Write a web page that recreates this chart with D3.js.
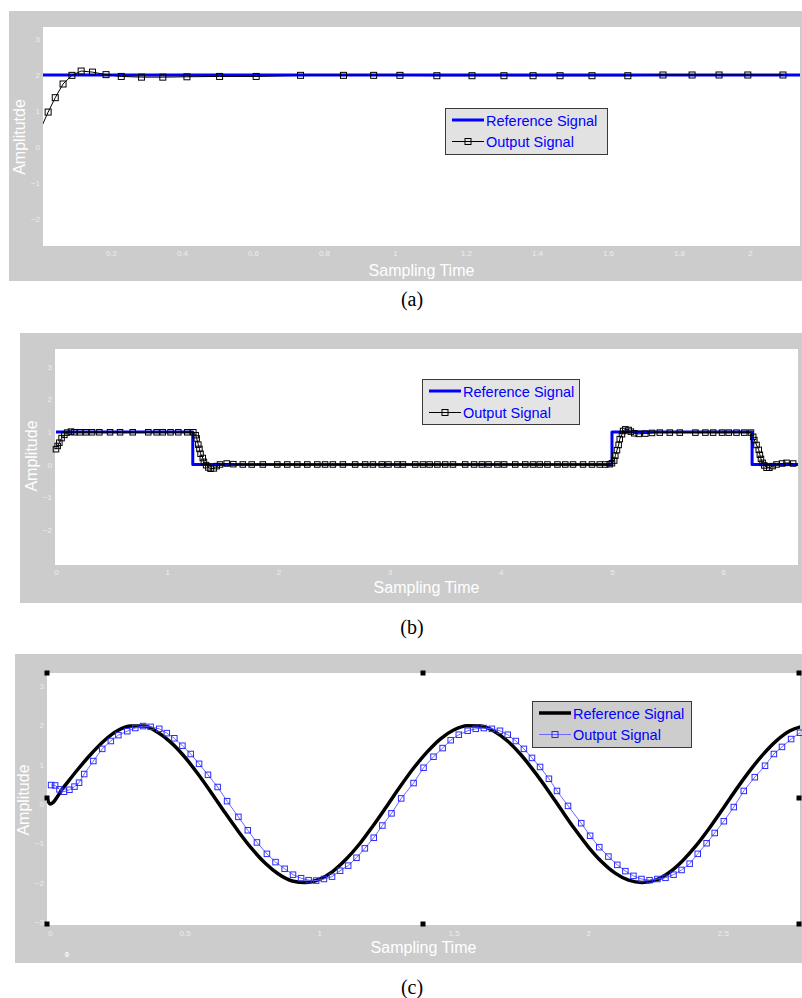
<!DOCTYPE html>
<html>
<head>
<meta charset="utf-8">
<script src="https://cdn.jsdelivr.net/npm/d3@7"></script>
<style>
  body { margin: 0; background: #fff; }
  svg { display: block; font-family: Arial, "Liberation Sans", sans-serif; }
</style>
</head>
<body>
<svg id="chart" width="802" height="998"></svg>
<script>
// ---- panel (a): step response ----
const aRefT = [0, 2.2];
const aRefV = [2, 2];
const aOutT = [-0.002, 0.023, 0.043, 0.065, 0.09, 0.116, 0.148, 0.186, 0.229, 0.286, 0.346, 0.414, 0.506, 0.609, 0.734,
  0.855, 0.94, 1.014, 1.118, 1.217, 1.307, 1.389, 1.465, 1.555, 1.656, 1.755, 1.837, 1.913, 1.994, 2.093];
const aOutV = [0.42, 0.97, 1.37, 1.75, 1.99, 2.11, 2.08, 2.01, 1.96, 1.94, 1.94, 1.95, 1.96, 1.96, 1.99,
  1.99, 1.99, 1.99, 1.98, 1.98, 1.98, 1.98, 1.98, 1.98, 1.98, 2.0, 2.0, 2.0, 2.0, 2.0];
const aXTicks = [0.2, 0.4, 0.6, 0.8, 1, 1.2, 1.4, 1.6, 1.8, 2];
const aXLabels = ['0.2', '0.4', '0.6', '0.8', '1', '1.2', '1.4', '1.6', '1.8', '2'];
const aYTicks = [-2, -1, 0, 1, 2, 3];

// ---- panel (b): square wave ----
const bRefT = [0, 1.23, 5.0, 6.26, 6.7];
const bRefV = [1, 0, 1, 0, 0];
const bOutT = [0, 0.015, 0.03, 0.05, 0.075, 0.1, 0.135, 0.165,
  0.216, 0.27, 0.324, 0.39, 0.486, 0.576, 0.69, 0.83, 0.905, 0.96, 1.03, 1.1, 1.18, 1.235,
  1.256, 1.265, 1.28, 1.29, 1.30, 1.32, 1.33, 1.35, 1.37, 1.39, 1.42, 1.445, 1.475, 1.535, 1.595,
  1.68, 1.76, 1.86, 1.99, 2.08, 2.17, 2.26, 2.35, 2.42, 2.49, 2.58, 2.69, 2.78, 2.85, 2.93, 2.99,
  3.07, 3.12, 3.23, 3.30, 3.36, 3.43, 3.50, 3.57, 3.68, 3.76, 3.83, 3.89, 3.97, 4.03, 4.13, 4.22,
  4.29, 4.35, 4.42, 4.51, 4.58, 4.65, 4.74, 4.82, 4.89, 4.94, 4.98,
  5.0, 5.02, 5.03, 5.045, 5.06, 5.07, 5.09, 5.10, 5.12, 5.15, 5.17, 5.2, 5.24, 5.30, 5.36, 5.43,
  5.52, 5.61, 5.75, 5.84, 5.91, 5.99, 6.05, 6.12, 6.19, 6.25,
  6.27, 6.28, 6.30, 6.32, 6.33, 6.34, 6.355, 6.37, 6.39, 6.415, 6.445, 6.48, 6.53, 6.57, 6.63];
const bOutV = [0.47, 0.57, 0.67, 0.81, 0.91, 0.98, 1.01, 0.99,
  0.99, 0.99, 0.99, 0.99, 0.99, 0.99, 0.99, 0.99, 0.99, 0.99, 0.99, 0.99, 0.99, 0.99,
  0.9, 0.8, 0.61, 0.48, 0.33, 0.2, 0.08, -0.02, -0.09, -0.13, -0.12, -0.05, 0.0, 0.03, 0.01,
  0, 0, 0, 0, 0, 0, 0, 0, 0, 0, 0, 0, 0, 0, 0, 0,
  0, 0, 0, 0, 0, 0, 0, 0, 0, 0, 0, 0, 0, 0, 0, 0,
  0, 0, 0, 0, 0, 0, 0, 0, 0, 0, 0.01,
  0.04, 0.12, 0.27, 0.44, 0.6, 0.78, 0.93, 1.03, 1.08, 1.06, 1.01, 0.96, 0.94, 0.95, 0.97, 0.98,
  0.98, 0.98, 0.98, 0.98, 0.98, 0.98, 0.98, 0.98, 0.98, 0.98,
  0.85, 0.75, 0.6, 0.45, 0.3, 0.17, 0.05, -0.03, -0.1, -0.1, -0.05, 0.0, 0.03, 0.05, 0.03];
const bXTicks = [0, 1, 2, 3, 4, 5, 6];
const bXLabels = ['0', '1', '2', '3', '4', '5', '6'];
const bYTicks = [-2, -1, 0, 1, 2, 3];

// ---- panel (c): sine tracking ----
const cRefT = [-0.011, 0, 0.05, 0.1, 0.15, 0.2, 0.25, 0.3, 0.35, 0.4, 0.45, 0.5, 0.55, 0.6, 0.65, 0.7, 0.75,
  0.8, 0.85, 0.9, 0.95, 1.0, 1.05, 1.1, 1.15, 1.2, 1.25, 1.3, 1.35, 1.4, 1.45, 1.5, 1.55, 1.6, 1.65,
  1.7, 1.75, 1.8, 1.85, 1.9, 1.95, 2.0, 2.05, 2.1, 2.15, 2.2, 2.25, 2.3, 2.35, 2.4, 2.45, 2.5, 2.55,
  2.6, 2.65, 2.7, 2.75, 2.8];
const cRefV = [0.14, 0, 0.42, 0.85, 1.25, 1.6, 1.86, 1.98, 1.98, 1.82, 1.56, 1.2, 0.76, 0.28, -0.22, -0.7, -1.14,
  -1.51, -1.79, -1.96, -2.0, -1.92, -1.72, -1.41, -1.02, -0.56, -0.07, 0.43, 0.9, 1.31, 1.65, 1.88, 1.99, 1.98, 1.85,
  1.6, 1.25, 0.82, 0.35, -0.15, -0.64, -1.09, -1.47, -1.76, -1.94, -2.0, -1.94, -1.75, -1.45, -1.07, -0.62, -0.13, 0.37,
  0.84, 1.26, 1.61, 1.86, 1.98];
const cOutT = [0.004, 0.019, 0.035, 0.052, 0.072, 0.091, 0.108, 0.127, 0.161, 0.194, 0.226, 0.254, 0.287, 0.317,
  0.346, 0.374, 0.406, 0.434, 0.462, 0.492, 0.523, 0.554, 0.587, 0.623, 0.658, 0.7, 0.735, 0.769, 0.806,
  0.838, 0.872, 0.903, 0.933, 0.961, 0.989, 1.018, 1.048, 1.078, 1.108, 1.139, 1.17, 1.203, 1.235, 1.269,
  1.305, 1.351, 1.388, 1.425, 1.459, 1.489, 1.519, 1.552, 1.582, 1.612, 1.642, 1.672, 1.701, 1.731, 1.761,
  1.791, 1.821, 1.854, 1.884, 1.925, 1.974, 2.007, 2.041, 2.075, 2.108, 2.138, 2.168, 2.198, 2.228, 2.257,
  2.287, 2.317, 2.347, 2.377, 2.407, 2.44, 2.47, 2.504, 2.541, 2.578, 2.619, 2.657, 2.69, 2.72, 2.754, 2.787];
const cOutV = [0.48, 0.47, 0.37, 0.31, 0.36, 0.44, 0.54, 0.76, 1.09, 1.4, 1.6, 1.75, 1.85, 1.93,
  1.98, 1.96, 1.91, 1.8, 1.67, 1.48, 1.27, 1.02, 0.74, 0.43, 0.07, -0.33, -0.67, -0.98, -1.27,
  -1.48, -1.65, -1.8, -1.89, -1.94, -1.95, -1.91, -1.85, -1.7, -1.57, -1.37, -1.13, -0.86, -0.55, -0.24,
  0.14, 0.53, 0.92, 1.2, 1.42, 1.62, 1.76, 1.86, 1.91, 1.93, 1.91, 1.86, 1.76, 1.6, 1.4,
  1.17, 0.94, 0.64, 0.33, -0.05, -0.49, -0.81, -1.1, -1.34, -1.55, -1.71, -1.83, -1.91, -1.94, -1.91,
  -1.88, -1.8, -1.68, -1.52, -1.27, -1.0, -0.74, -0.44, -0.08, 0.33, 0.68, 0.97, 1.27, 1.45, 1.65, 1.81];
const cXTicks = [0, 0.5, 1, 1.5, 2, 2.5];
const cXLabels = ['0', '0.5', '1', '1.5', '2', '2.5'];
const cYTicks = [-3, -2, -1, 0, 1, 2, 3];

const legendNames = ['Reference Signal', 'Output Signal'];

const svg = d3.select('#chart');

function drawPanel(o) {
  const g = svg.append('g');
  const [fx0, fy0, fx1, fy1] = o.frame;
  const [px0, py0, px1, py1] = o.plot;

  g.append('rect').attr('x', fx0).attr('y', fy0).attr('width', fx1 - fx0).attr('height', fy1 - fy0).attr('fill', '#cccccc');
  g.append('rect').attr('x', px0).attr('y', py0).attr('width', px1 - px0).attr('height', py1 - py0).attr('fill', '#ffffff');

  const x = d3.scaleLinear().domain(o.xDomain).range([px0, px1]);
  const y = d3.scaleLinear().domain(o.yDomain).range([py1, py0]);

  const xa = g.append('g')
    .attr('transform', 'translate(0,' + py1 + ')')
    .call(d3.axisBottom(x).tickValues(o.xTicks).tickSize(0).tickPadding(o.xPad)
      .tickFormat((d, i) => o.xLabels[i]));
  const ya = g.append('g')
    .attr('transform', 'translate(' + px0 + ',0)')
    .call(d3.axisLeft(y).tickValues(o.yTicks).tickSize(0).tickPadding(3)
      .tickFormat(d3.format('d')));
  [xa, ya].forEach(a => {
    a.select('.domain').remove();
    a.attr('font-family', 'Arial, "Liberation Sans", sans-serif').attr('font-size', 8);
    a.selectAll('text').attr('fill', '#ececec');
  });

  // axis titles
  g.append('text')
    .attr('x', (px0 + px1) / 2).attr('y', o.xTitleY)
    .attr('text-anchor', 'middle').attr('fill', '#ffffff').attr('font-size', 16)
    .text('Sampling Time');
  g.append('text')
    .attr('transform', 'translate(' + o.yTitleX + ',' + o.yTitleCy + ') rotate(-90)')
    .attr('text-anchor', 'middle').attr('fill', '#ffffff').attr('font-size', 16)
    .text(o.yTitle);

  const clipId = 'clip-' + o.id;
  g.append('clipPath').attr('id', clipId)
    .append('rect').attr('x', px0).attr('y', py0).attr('width', px1 - px0).attr('height', py1 - py0);

  const line = d3.line().x(d => x(d[0])).y(d => y(d[1]));

  // reference
  g.append('path')
    .datum(d3.zip(o.refT, o.refV))
    .attr('clip-path', 'url(#' + clipId + ')')
    .attr('fill', 'none')
    .attr('stroke', o.refColor)
    .attr('stroke-width', o.refWidth)
    .attr('stroke-linejoin', 'round')
    .attr('d', line.curve(o.refCurve));

  // output
  const outData = d3.zip(o.outT, o.outV);
  g.append('path')
    .datum(outData)
    .attr('clip-path', 'url(#' + clipId + ')')
    .attr('fill', 'none')
    .attr('stroke', o.outLine)
    .attr('stroke-width', 1)
    .attr('d', d3.line().x(d => x(d[0])).y(d => y(d[1])));

  const s = o.markerSize;
  const mk = g.append('g');
  if (o.clipMarkers) mk.attr('clip-path', 'url(#' + clipId + ')');
  mk.selectAll('rect')
    .data(outData)
    .join('rect')
    .attr('x', d => x(d[0]) - s / 2)
    .attr('y', d => y(d[1]) - s / 2)
    .attr('width', s).attr('height', s)
    .attr('fill', 'none')
    .attr('stroke', o.outColor)
    .attr('stroke-width', 1);

  // legend
  const [lx0, ly0, lx1, ly1] = o.legend;
  const lg = g.append('g');
  lg.append('rect').attr('x', lx0 + 0.5).attr('y', ly0 + 0.5).attr('width', lx1 - lx0).attr('height', ly1 - ly0)
    .attr('fill', o.legendFill).attr('stroke', '#3a3a3a').attr('stroke-width', 1);
  const rowY = [ly0 + 12, ly0 + 33.5];
  const sx0 = lx0 + 7, sx1 = lx0 + 39;
  lg.append('line').attr('x1', sx0).attr('x2', sx1).attr('y1', rowY[0]).attr('y2', rowY[0])
    .attr('stroke', o.refColor).attr('stroke-width', o.refWidth);
  lg.append('line').attr('x1', sx0).attr('x2', sx1).attr('y1', rowY[1]).attr('y2', rowY[1])
    .attr('stroke', o.outLine).attr('stroke-width', 1);
  lg.append('rect').attr('x', (sx0 + sx1) / 2 - 3).attr('y', rowY[1] - 3).attr('width', 6).attr('height', 6)
    .attr('fill', 'none').attr('stroke', o.outColor).attr('stroke-width', 1);
  legendNames.forEach((n, i) => {
    lg.append('text').attr('x', sx1 + 2).attr('y', rowY[i] + 5.5)
      .attr('fill', '#0000ff').attr('font-size', 14.5).text(n);
  });

  // caption
  svg.append('text')
    .attr('x', 412).attr('y', o.captionY)
    .attr('text-anchor', 'middle')
    .attr('font-family', '"Liberation Serif", "Times New Roman", serif')
    .attr('font-size', 20).attr('fill', '#000')
    .text(o.caption);

  return { g, x, y };
}

drawPanel({
  id: 'a', frame: [9, 11, 802, 281], plot: [43, 27, 800, 246],
  xDomain: [0.0085, 2.141], yDomain: [-2.75, 3.333],
  xTicks: aXTicks, xLabels: aXLabels, yTicks: aYTicks, xPad: 4.5,
  xTitleY: 276, yTitle: 'Amplitutde', yTitleX: 25, yTitleCy: 137,
  refT: aRefT, refV: aRefV, refColor: '#0000ff', refWidth: 3, refCurve: d3.curveLinear,
  outT: aOutT, outV: aOutV, outColor: '#000000', outLine: '#000000', markerSize: 6, clipMarkers: true,
  legend: [445, 108, 607, 154], legendFill: '#e2e2e2',
  caption: '(a)', captionY: 306
});

drawPanel({
  id: 'b', frame: [20, 333, 802, 603], plot: [55, 349, 798, 565],
  xDomain: [-0.009, 6.673], yDomain: [-3.09, 3.55],
  xTicks: bXTicks, xLabels: bXLabels, yTicks: bYTicks, xPad: 4.5,
  xTitleY: 593, yTitle: 'Amplitude', yTitleX: 37, yTitleCy: 456,
  refT: bRefT, refV: bRefV, refColor: '#0000ff', refWidth: 3, refCurve: d3.curveStepAfter,
  outT: bOutT, outV: bOutV, outColor: '#000000', outLine: '#000000', markerSize: 5.5,
  legend: [422, 379, 579, 424], legendFill: '#e4e4e4',
  caption: '(b)', captionY: 634
});

const c = drawPanel({
  id: 'c', frame: [15, 654, 802, 963], plot: [47, 673, 800, 925],
  xDomain: [-0.0112, 2.787], yDomain: [-3.08, 3.33],
  xTicks: cXTicks, xLabels: cXLabels, yTicks: cYTicks, xPad: 5,
  xTitleY: 953, yTitle: 'Amplitude', yTitleX: 29, yTitleCy: 800,
  refT: cRefT, refV: cRefV, refColor: '#000000', refWidth: 3.5, refCurve: d3.curveMonotoneX,
  outT: cOutT, outV: cOutV, outColor: '#2b2bff', outLine: '#6a6aff', markerSize: 5.5,
  legend: [532, 701, 691, 747], legendFill: '#cdcdcd',
  caption: '(c)', captionY: 994
});

// selection handles around panel (c)
const hx = [47, 423, 799], hy = [673, 798, 924];
hx.forEach((xx, i) => hy.forEach((yy, j) => {
  if (i === 1 && j === 1) return;
  c.g.append('rect').attr('x', xx - 2.5).attr('y', yy - 2.5).attr('width', 5).attr('height', 5).attr('fill', '#000');
}));
c.g.append('text').attr('x', 67).attr('y', 957).attr('text-anchor', 'middle')
  .attr('fill', '#ffffff').attr('font-size', 7).attr('font-weight', 'bold').text('0');
</script>
</body>
</html>
